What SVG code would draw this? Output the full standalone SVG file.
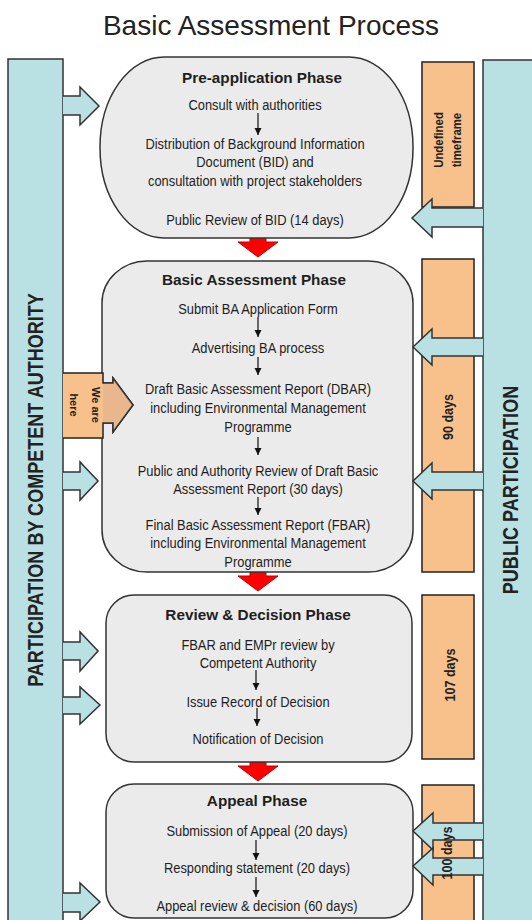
<svg xmlns="http://www.w3.org/2000/svg" width="532" height="920" viewBox="0 0 532 920">
<style>
.bar{fill:#b9e0e2;stroke:#333;stroke-width:1.5}
.tf{fill:#f8c18b;stroke:#222;stroke-width:1.5}
.phase{fill:#ebebeb;stroke:#333;stroke-width:1.5}
.body{font-family:"Liberation Sans",Arial,sans-serif;font-size:15px;fill:#1e1e1e;text-anchor:middle}
.head{font-family:"Liberation Sans",Arial,sans-serif;font-size:15.3px;font-weight:bold;fill:#1e1e1e;text-anchor:middle}
.vbig{font-family:"Liberation Sans",Arial,sans-serif;font-size:22px;font-weight:bold;fill:#222;text-anchor:middle}
.vsm{font-family:"Liberation Sans",Arial,sans-serif;font-weight:bold;fill:#222;text-anchor:middle}
.blue{fill:#b9e0e2;stroke:#333;stroke-width:1.5}
.red{fill:#ff0000;stroke:#c00000;stroke-width:1}
.step{stroke:#111;stroke-width:1.2;fill:none;marker-end:url(#ah)}
</style>
<defs>
<marker id="ah" markerUnits="userSpaceOnUse" markerWidth="8" markerHeight="8" refX="7" refY="3.5" orient="auto">
<path d="M0,0 L7,3.5 L0,7 z" fill="#111"/>
</marker>
</defs>
<rect width="532" height="920" fill="#fff"/>
<g id="title"><text x="271" y="35" style="font-family:'Liberation Sans',Arial,sans-serif;font-size:28px;fill:#222;text-anchor:middle">Basic Assessment Process</text></g>

<g id="competent-authority">
<rect class="bar" x="8" y="59" width="55" height="880"/>
<text class="vbig" transform="translate(43,490) rotate(-90) scale(0.82,1)">PARTICIPATION  BY COMPETENT AUTHORITY</text>
</g>
<g id="public-participation">
<rect class="bar" x="483" y="60" width="60" height="880"/>
<text class="vbig" transform="translate(518,490) rotate(-90) scale(0.82,1)">PUBLIC PARTICIPATION</text>
</g>

<g id="tf-undefined">
<rect class="tf" x="422" y="62" width="52" height="145"/>
<text class="vsm" font-size="12" transform="translate(443,140) rotate(-90) scale(0.95,1)">Undefined</text>
<text class="vsm" font-size="12" transform="translate(461,140) rotate(-90) scale(0.95,1)">timeframe</text>
</g>
<g id="tf-90">
<rect class="tf" x="422" y="259" width="52" height="313"/>
<text class="vsm" font-size="14" transform="translate(453,417) rotate(-90) scale(0.9,1)">90 days</text>
</g>
<g id="tf-107">
<rect class="tf" x="422" y="595" width="52" height="164"/>
<text class="vsm" font-size="14" transform="translate(455,675) rotate(-90) scale(0.9,1)">107 days</text>
</g>
<g id="tf-100">
<rect class="tf" x="422" y="785" width="52" height="150"/>
</g>

<g id="connectors">
<path class="red" d="M250,236 L266,236 L266,242 L278,242 L258,257 L238,242 L250,242 z"/>
<path class="red" d="M250,570 L266,570 L266,576 L278,576 L258,591 L238,576 L250,576 z"/>
<path class="red" d="M250,760 L266,760 L266,766 L278,766 L258,781 L238,766 L250,766 z"/>
</g>

<g id="pre-application">
<rect class="phase" x="100" y="57" width="313" height="181" rx="64" ry="90"/>
<text class="head" x="262" y="83">Pre-application Phase</text>
<g transform="translate(255,0) scale(0.86,1)">
<text class="body" x="0" y="110">Consult with authorities</text>
<text class="body" x="0" y="149">Distribution of Background Information</text>
<text class="body" x="0" y="167">Document (BID) and</text>
<text class="body" x="0" y="186">consultation with project stakeholders</text>
<text class="body" x="0" y="225">Public Review of BID (14 days)</text>
</g>
</g>

<g id="basic-assessment">
<rect class="phase" x="102" y="261" width="311" height="311" rx="45" ry="42"/>
<text class="head" x="254" y="285">Basic Assessment Phase</text>
<g transform="translate(258,0) scale(0.86,1)">
<text class="body" x="0" y="314">Submit BA Application Form</text>
<text class="body" x="0" y="353">Advertising BA process</text>
<text class="body" x="0" y="394">Draft Basic Assessment Report (DBAR)</text>
<text class="body" x="0" y="413">including Environmental Management</text>
<text class="body" x="0" y="432">Programme</text>
<text class="body" x="0" y="476">Public and Authority Review of Draft Basic</text>
<text class="body" x="0" y="494">Assessment Report (30 days)</text>
<text class="body" x="0" y="530">Final Basic Assessment Report (FBAR)</text>
<text class="body" x="0" y="548">including Environmental Management</text>
<text class="body" x="0" y="567">Programme</text>
</g>
</g>

<g id="review-decision">
<rect class="phase" x="106" y="595" width="306" height="167" rx="28" ry="28"/>
<text class="head" x="258" y="620">Review &amp; Decision Phase</text>
<g transform="translate(258,0) scale(0.86,1)">
<text class="body" x="0" y="650">FBAR and EMPr review by</text>
<text class="body" x="0" y="668">Competent Authority</text>
<text class="body" x="0" y="707">Issue Record of Decision</text>
<text class="body" x="0" y="744">Notification of Decision</text>
</g>
</g>

<g id="appeal">
<rect class="phase" x="106" y="784" width="307" height="134" rx="28" ry="28"/>
<text class="head" x="257" y="806">Appeal Phase</text>
<g transform="translate(257,0) scale(0.86,1)">
<text class="body" x="0" y="836">Submission of Appeal (20 days)</text>
<text class="body" x="0" y="873">Responding statement (20 days)</text>
<text class="body" x="0" y="911">Appeal review &amp; decision (60 days)</text>
</g>
</g>

<g id="we-are-here">
<path d="M63,373 L103,373 L103,383 L113,383 L113,378 L133,405 L113,432 L113,423 L103,423 L103,438 L63,438" fill="#f8c18b" stroke="#222" stroke-width="1.5"/>
<path d="M103,383 L113,383 L113,378 L133,405 L113,432 L113,423 L103,423" fill="#e9b78d" stroke="#333" stroke-width="1.5"/>
<text class="vsm" font-size="11" transform="translate(92,405) rotate(90)">We are</text>
<text class="vsm" font-size="11" transform="translate(70,405) rotate(90)">here</text>
</g>

<g id="flow-connectors">
<line class="step" x1="258" y1="113" x2="258" y2="135"/>
<line class="step" x1="258" y1="317" x2="258" y2="337"/>
<line class="step" x1="258" y1="357" x2="258" y2="375"/>
<line class="step" x1="258" y1="437" x2="258" y2="455"/>
<line class="step" x1="258" y1="497" x2="258" y2="515"/>
<line class="step" x1="256" y1="670" x2="256" y2="690"/>
<line class="step" x1="257" y1="708" x2="257" y2="726"/>
<line class="step" x1="256" y1="840" x2="256" y2="860"/>
<line class="step" x1="256" y1="877" x2="256" y2="897"/>
<path class="blue" d="M63,96 L80,96 L80,87 L99,106 L80,125 L80,115 L63,115"/>
<path class="blue" d="M63,472 L80,472 L80,462 L98,481 L80,500 L80,490 L63,490"/>
<path class="blue" d="M63,642 L80,642 L80,632 L98,651 L80,671 L80,660 L63,660"/>
<path class="blue" d="M63,697 L80,697 L80,687 L100,705 L80,724 L80,714 L63,714"/>
<path class="blue" d="M63,893 L80,893 L80,883 L100,902 L80,921 L80,912 L63,912"/>
<path class="blue" d="M483,208 L432,208 L432,199 L412,218 L432,237 L432,227 L483,227"/>
<path class="blue" d="M483,338 L432,338 L432,329 L413,347 L432,365 L432,356 L483,356"/>
<path class="blue" d="M483,472 L432,472 L432,463 L413,481 L432,499 L432,490 L483,490"/>
<path class="blue" d="M483,823 L433,823 L433,813 L413,831 L433,850 L433,840 L483,840"/>
<path class="blue" d="M483,858 L433,858 L433,848 L413,866 L433,885 L433,875 L483,875"/>
</g>

<g id="tf-100-label">
<text class="vsm" font-size="14" transform="translate(452,853) rotate(-90) scale(0.9,1)">100 days</text>
</g>
</svg>
